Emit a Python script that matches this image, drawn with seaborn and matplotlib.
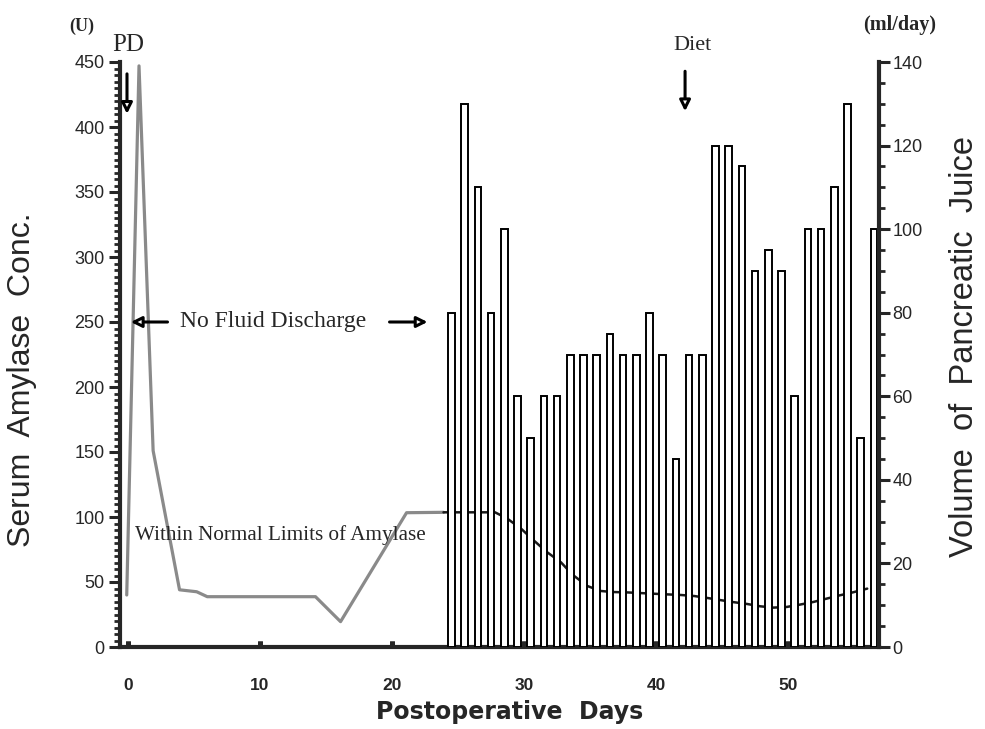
import matplotlib
matplotlib.use("Agg")
import matplotlib.pyplot as plt
import matplotlib.ticker as ticker
import numpy as np
import seaborn as sns

# serum amylase (U); day on the postoperative axis
amylase_day = [-0.1, 0.83, 1.9, 3.9, 5.2, 6.0, 14.2, 16.1, 21.1, 23.9,
               24.6, 25.8, 26.8, 27.8, 28.7, 29.8, 30.7, 31.7, 32.8, 33.7,
               34.8, 35.8, 36.7, 37.8, 38.8, 39.8, 40.8, 41.9, 42.9, 43.9,
               44.8, 45.8, 46.9, 47.9, 48.9, 49.9, 50.9, 51.9, 53.0, 53.9,
               54.9, 56.0]
amylase_val = [40, 447, 151, 44, 42.5, 38.7, 38.7, 19.5, 103.3, 103.6,
               103.6, 103.6, 103.6, 103.6, 99, 90.8, 82.3, 73.3, 65.1, 55.4,
               46.9, 43.1, 42.3, 42, 41.5, 41, 40.5, 40, 39.2, 37.7,
               36.2, 34.6, 33.1, 31.3, 30.3, 30.8, 32.6, 34.6, 37.4, 39.7,
               42, 44.9]

# volume of pancreatic juice (ml/day), one bar per day
juice_day = [d + 0.5 for d in range(24, 57)]
juice_ml = [80, 130, 110, 80, 100, 60, 50, 60, 60, 70,
            70, 70, 75, 70, 70, 80, 70, 45, 70, 70,
            120, 120, 115, 90, 95, 90, 60, 100, 100, 110,
            130, 50, 100]

x_ticks = [0, 10, 20, 30, 40, 50]

sns.set_style("ticks")
plt.rcParams["font.family"] = ["Liberation Sans", "DejaVu Sans"]
serif = ["Liberation Serif", "DejaVu Serif"]

W, H = 985, 729
fig = plt.figure(figsize=(W / 100, H / 100), dpi=100)
ax = fig.add_axes([120 / W, 82 / H, 758.7 / W, 585 / H])
ax2 = ax.twinx()


def fx(px):
    return px / W


def fy(py):
    return 1 - py / H


# amylase line: grey trace before drainage, dark trace under the bars
split = 10
sns.lineplot(x=amylase_day[:split], y=amylase_val[:split], ax=ax,
             color="#8a8a8a", linewidth=2.3, sort=False, estimator=None)
sns.lineplot(x=amylase_day[split - 1:], y=amylase_val[split - 1:], ax=ax,
             color="#1a1a1a", linewidth=1.8, sort=False, estimator=None)

ax2.bar(juice_day, juice_ml, width=0.5, color="white", edgecolor="black",
        linewidth=1.4, zorder=1)

ax.set_xlim(-0.61, 56.87)
ax.set_ylim(0, 450)
ax2.set_ylim(0, 140)

# left axis
ax.yaxis.set_major_locator(ticker.MultipleLocator(50))
ax.yaxis.set_minor_locator(ticker.MultipleLocator(5))
ax.tick_params(axis="y", which="major", direction="out", length=8, width=2.2,
               labelsize=13, pad=3)
ax.tick_params(axis="y", which="minor", direction="out", length=4.5, width=2)

# bottom axis
ax.set_xticks(x_ticks)
ax.tick_params(axis="x", direction="in", length=4, width=3.5, labelsize=12.5,
               pad=22)
for lab in ax.get_xticklabels():
    lab.set_fontweight("bold")
ax2.xaxis.set_visible(True)
ax2.set_xticks(x_ticks)
ax2.tick_params(axis="x", direction="in", length=4, width=3.5,
                labelbottom=False)

# right axis
ax2.yaxis.set_major_locator(ticker.MultipleLocator(20))
ax2.yaxis.set_minor_locator(ticker.MultipleLocator(5))
ax2.tick_params(axis="y", which="major", direction="out", length=8, width=2.2,
                labelsize=13, pad=2)
ax2.tick_params(axis="y", which="minor", direction="out", length=4.5, width=2)

for a in (ax, ax2):
    a.spines["top"].set_visible(False)
ax.spines["right"].set_visible(False)
ax.spines["left"].set_linewidth(3)
ax.spines["bottom"].set_linewidth(3)
ax2.spines["left"].set_visible(False)
ax2.spines["bottom"].set_visible(False)
ax2.spines["right"].set_linewidth(3)

ax.set_xlabel("Postoperative  Days", fontsize=17, fontweight="bold",
              family=["DejaVu Sans"])
ax.xaxis.set_label_coords(0.513, -0.0906)
ax.set_ylabel("Serum  Amylase  Conc.", fontsize=23)
ax.yaxis.set_label_coords(-0.109, 0.456)
ax2.set_ylabel("Volume  of  Pancreatic  Juice", fontsize=23.5)
ax2.yaxis.set_label_coords(1.0925, 0.5145)

# units
fig.text(fx(82), fy(26), "(U)", family=serif, fontsize=13, fontweight="bold",
         ha="center", va="center")
fig.text(fx(900), fy(25), "(ml/day)", family=serif, fontsize=14.5,
         fontweight="bold", ha="center", va="center")

# event markers
arrow = dict(arrowstyle="-|>", color="black", fc="white", lw=2.2,
             mutation_scale=16)
fig.text(fx(128), fy(45), "PD", family=serif, fontsize=18, ha="center",
         va="center")
ax.annotate("", xy=(-0.08, 408), xytext=(-0.08, 443), arrowprops=arrow,
            annotation_clip=False)
fig.text(fx(692), fy(45), "Diet", family=serif, fontsize=16, ha="center",
         va="center")
ax.annotate("", xy=(42.2, 410), xytext=(42.2, 445), arrowprops=arrow,
            annotation_clip=False)

ax.text(11.0, 250, "No Fluid Discharge", family=serif, fontsize=17,
        ha="center", va="center")
ax.annotate("", xy=(0.0, 250), xytext=(3.2, 250), arrowprops=arrow)
ax.annotate("", xy=(22.9, 250), xytext=(19.6, 250), arrowprops=arrow)
ax.text(0.55, 86, "Within Normal Limits of Amylase", family=serif,
        fontsize=15.2, ha="left", va="center")

fig.savefig("out.png", dpi=100)
